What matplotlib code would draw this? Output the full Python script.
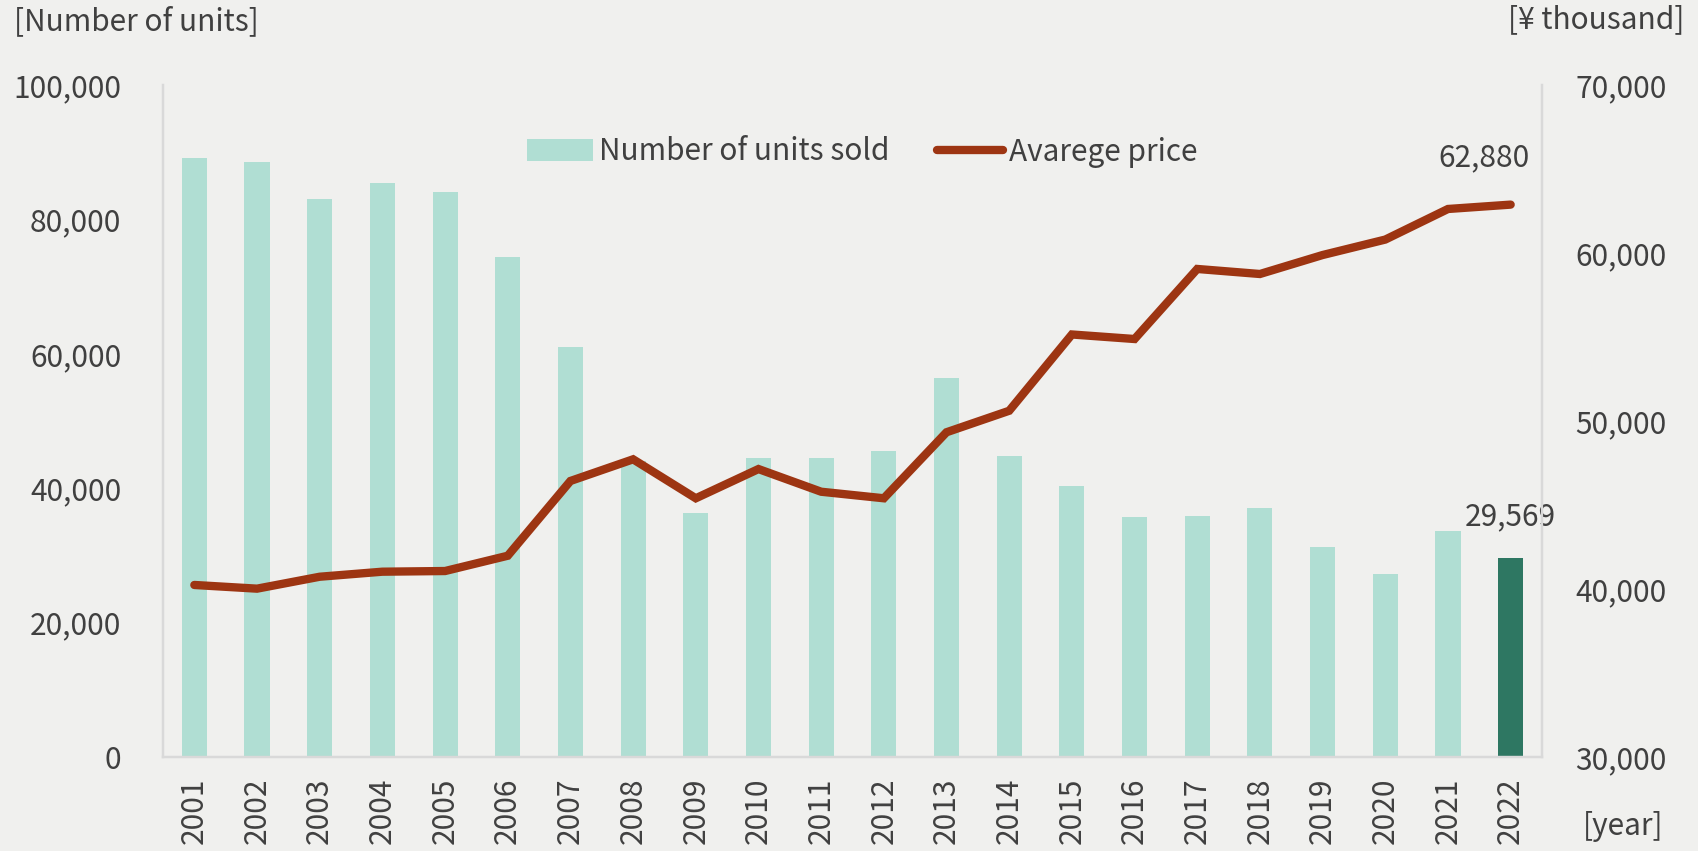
import matplotlib
matplotlib.use("Agg")
import matplotlib.pyplot as plt
from matplotlib.patches import Patch
from matplotlib.lines import Line2D
from matplotlib.ticker import FuncFormatter, FixedLocator

plt.rcParams['font.family'] = ['Noto Sans CJK JP', 'DejaVu Sans']

# Annual figures
years = [str(y) for y in range(2001, 2023)]
units_sold = [89200, 88500, 83100, 85400, 84100, 74400, 61000, 44000, 36300, 44500,
              44450, 45500, 56400, 44800, 40400, 35700, 35800, 37050, 31200, 27200,
              33600, 29569]
avg_price = [40240, 40020, 40730, 41030, 41070, 41980, 46430, 47720, 45400, 47140,
             45790, 45400, 49330, 50610, 55150, 54880, 59050, 58750, 59880, 60800,
             62620, 62880]

left_ticks = [0, 20000, 40000, 60000, 80000, 100000]
right_ticks = [30000, 40000, 50000, 60000, 70000]

BG = '#f0f0ee'
BAR = '#b0ded3'
BAR_HI = '#2e7762'
LINE = '#9d3512'
TXT = '#404040'
SPINE = '#d9d9d9'
FS = 21.5

W, H = 1699, 851
fig = plt.figure(figsize=(W / 100, H / 100), dpi=100, facecolor=BG)
l, r, t, b = 163, 1542, 85, 757
ax = fig.add_axes([l / W, 1 - b / H, (r - l) / W, (b - t) / H])
ax.set_facecolor(BG)

x = list(range(len(years)))
colors = [BAR] * (len(years) - 1) + [BAR_HI]
ax.bar(x, units_sold, width=0.4, color=colors, zorder=2)
ax.set_xlim(-0.5, len(years) - 0.5)
ax.set_ylim(0, 100000)
ax.yaxis.set_major_locator(FixedLocator(left_ticks))
fmt = FuncFormatter(lambda v, p: f"{int(v):,}")
ax.yaxis.set_major_formatter(fmt)
ax.set_xticks(x)
ax.set_xticklabels(years, rotation=90)

ax2 = ax.twinx()
ax2.plot(x, avg_price, color=LINE, lw=6, solid_capstyle='round',
         solid_joinstyle='miter', zorder=3)
ax2.set_ylim(30000, 70000)
ax2.yaxis.set_major_locator(FixedLocator(right_ticks))
ax2.yaxis.set_major_formatter(fmt)

for a in (ax, ax2):
    a.spines['top'].set_visible(False)
    for s in ('left', 'right', 'bottom'):
        a.spines[s].set_color(SPINE)
        a.spines[s].set_linewidth(1.6)
    a.tick_params(length=0, labelsize=FS, labelcolor=TXT)
ax.tick_params(axis='y', pad=30)
ax.tick_params(axis='x', pad=15)
ax2.tick_params(axis='y', pad=24)

# Value labels for the latest year
ax2.annotate(f"{avg_price[-1]:,}", (x[-1], avg_price[-1]), xytext=(-27, 47),
             textcoords='offset pixels', ha='center', va='center',
             fontsize=FS, color=TXT)
ax.annotate(f"{units_sold[-1]:,}", (x[-1], units_sold[-1]), xytext=(0, 42),
            textcoords='offset pixels', ha='center', va='center',
            fontsize=FS, color=TXT)

# Axis unit captions
fig.text(14 / W, 1 - 22 / H, "[Number of units]", ha='left', va='center',
         fontsize=FS, color=TXT)
fig.text(1684 / W, 1 - 20 / H, "[¥ thousand]", ha='right', va='center',
         fontsize=FS, color=TXT)
fig.text(1663 / W, 1 - 827 / H, "[year]", ha='right', va='center',
         fontsize=FS, color=TXT)

handles = [Patch(facecolor=BAR, edgecolor='none'),
           Line2D([0], [0], color=LINE, lw=6, solid_capstyle='round')]
fig.legend(handles, ["Number of units sold", "Avarege price"], loc='center',
           bbox_to_anchor=((525 + 1200) / 2 / W, 1 - 152 / H), ncol=2,
           frameon=False, fontsize=FS, labelcolor=TXT, handlelength=2.2,
           handleheight=0.75, handletextpad=0.2, columnspacing=1.6)

fig.savefig("out.png", dpi=100, facecolor=BG)
